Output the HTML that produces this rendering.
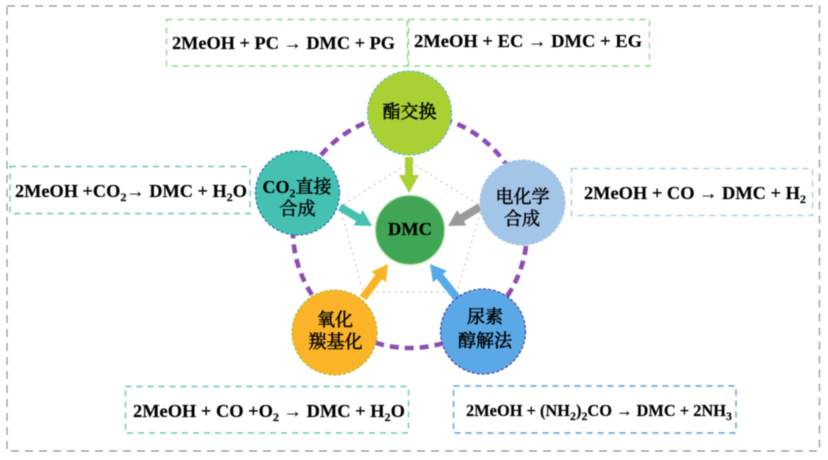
<!DOCTYPE html>
<html><head><meta charset="utf-8"><style>
html,body{margin:0;padding:0;background:#fff}
svg{display:block;filter:blur(0.4px)}
.f{font-family:"Liberation Serif",serif;font-weight:700;font-size:18px;fill:#000;stroke:#000;stroke-width:.15}
.c{font-family:"Liberation Serif","Noto Serif CJK SC",serif;font-weight:400;font-size:18px;fill:#000;stroke:#000;stroke-width:.5;text-anchor:middle}
.b{font-weight:700;stroke-width:.15}
.s{font-size:12px}
</style></head><body>
<svg width="828" height="460" viewBox="0 0 828 460" xmlns="http://www.w3.org/2000/svg">
<rect x="7" y="6" width="812.5" height="445" fill="none" stroke="#8f8f8f" stroke-width="1.2" stroke-dasharray="8 6"/>
<g fill="none" stroke-width="1.4" stroke-dasharray="6 5">
<rect x="166.5" y="19.5" width="241" height="46.5" stroke="#8fd98a"/>
<rect x="408.5" y="19.5" width="241" height="46.5" stroke="#8fd98a"/>
<rect x="10" y="166.5" width="240" height="47" stroke="#66c8b8"/>
<rect x="571.5" y="168.5" width="241" height="47" stroke="#afcde8"/>
<rect x="125.5" y="386.5" width="283" height="46.5" stroke="#66c8b8"/>
<rect x="453.5" y="386" width="282.5" height="47" stroke="#5c9bd8"/>
</g>
<polygon points="410,162 482,207 457,292 363,292 340,207" fill="none" stroke="#d5c8c0" stroke-width="1.4" stroke-dasharray="2 4"/>
<circle cx="410" cy="231" r="117" fill="none" stroke="#8e4cb0" stroke-width="4.6" stroke-dasharray="9 6"/>
<g>
<polygon points="405,157 413,157 413,175 419,175 409,193 399,175 405,175" fill="#a9d134"/>
<polygon points="342,203.6 360.2,214.4 362.8,210.1 372,226 353.6,225.5 356.2,221.2 338,210.4" fill="#45c1b2"/>
<polygon points="478,203.6 459.8,214.4 457.2,210.1 448,226 466.4,225.5 463.8,221.2 482,210.4" fill="#9a9a9a"/>
<polygon points="460.1,295.5 443,274 446.9,270.9 430,264 432.9,282.1 436.8,279 453.9,300.5" fill="#55abe8"/>
<polygon points="359.8,295.6 375.4,274.6 371.3,271.7 388,264 385.9,282.3 381.8,279.4 366.2,300.4" fill="#fbb427"/>
</g>
<g stroke-width="1.2" stroke-dasharray="3 2">
<circle cx="409.5" cy="113" r="42" fill="#a9d134" stroke="#5bb8d0"/>
<circle cx="297.5" cy="193" r="42" fill="#45c1b2" stroke="#1f6fa8"/>
<circle cx="522.5" cy="202.5" r="42.5" fill="#a3c5e8" stroke="#a3c5e8"/>
<circle cx="483" cy="331.5" r="42.5" fill="#5aa9e6" stroke="#4a3a9c"/>
<circle cx="334.5" cy="332.5" r="42.5" fill="#fbb427" stroke="#9bc34a"/>
</g>
<circle cx="410" cy="230" r="34.5" fill="#40a555" stroke="#a8dba0" stroke-width="1.2"/>
<text class="c b" x="410" y="235" textLength="44" lengthAdjust="spacingAndGlyphs">DMC</text>
<text class="c" x="409.5" y="118">酯交换</text>
<text class="c" x="297" y="193"><tspan class="b">CO</tspan><tspan class="s b" dy="4">2</tspan><tspan dy="-4">直接</tspan></text>
<text class="c" x="297.5" y="215">合成</text>
<text class="c" x="522.5" y="203">电化学</text>
<text class="c" x="522" y="225">合成</text>
<text class="c" x="485" y="323">尿素</text>
<text class="c" x="485" y="347">醇解法</text>
<text class="c" x="335" y="326">氧化</text>
<text class="c" x="335.5" y="348">羰基化</text>
<text class="f" x="172" y="49" textLength="223" lengthAdjust="spacingAndGlyphs">2MeOH + PC → DMC + PG</text>
<text class="f" x="414" y="47" textLength="228" lengthAdjust="spacingAndGlyphs">2MeOH + EC → DMC + EG</text>
<text class="f" x="15" y="197" textLength="232" lengthAdjust="spacingAndGlyphs">2MeOH +CO<tspan class="s" dy="4">2</tspan><tspan dy="-4">→ DMC + H</tspan><tspan class="s" dy="4">2</tspan><tspan dy="-4">O</tspan></text>
<text class="f" x="584" y="199" textLength="222" lengthAdjust="spacingAndGlyphs">2MeOH + CO → DMC + H<tspan class="s" dy="4">2</tspan></text>
<text class="f" x="133" y="417" textLength="272" lengthAdjust="spacingAndGlyphs">2MeOH + CO +O<tspan class="s" dy="4">2</tspan><tspan dy="-4"> → DMC + H</tspan><tspan class="s" dy="4">2</tspan><tspan dy="-4">O</tspan></text>
<text class="f" x="466" y="416" textLength="266" lengthAdjust="spacingAndGlyphs" style="font-size:16.5px">2MeOH + (NH<tspan class="s" dy="4">2</tspan><tspan dy="-4">)</tspan><tspan class="s" dy="4">2</tspan><tspan dy="-4">CO → DMC + 2NH</tspan><tspan class="s" dy="4">3</tspan></text>
</svg>
</body></html>
